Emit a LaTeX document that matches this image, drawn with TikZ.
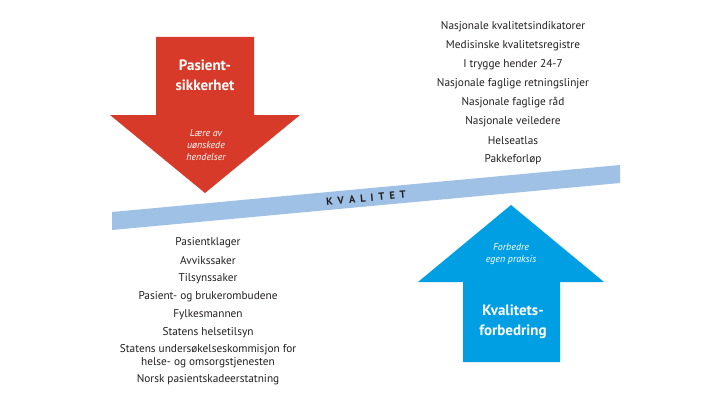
\documentclass[tikz,border=0pt]{standalone}
\usepackage{fontspec}
\setmainfont{PT Sans}
\definecolor{redarrow}{HTML}{D73A28}
\definecolor{bluearrow}{HTML}{009FE3}
\definecolor{bandblue}{HTML}{9FC1E6}
\definecolor{txt}{HTML}{231F20}
\tikzset{
  listitem/.style={font=\fontsize{11.3}{12.5}\selectfont, text=txt, inner sep=0pt, anchor=center, align=center},
  arrowtitle/.style={font=\bfseries\fontsize{15}{20}\selectfont, text=white, inner sep=0pt, align=center},
  arrownote/.style={font=\itshape\fontsize{10}{12}\selectfont, text=white, inner sep=0pt, align=center},
}
\begin{document}
\begin{tikzpicture}[x=1pt,y=-1pt]
\useasboundingbox (0,0) rectangle (719,404);
% band
\fill[bandblue] (112,212) -- (620,165) -- (620,183) -- (112,230) -- cycle;
\node[font=\bfseries\fontsize{10.5}{12}\selectfont, text=txt, rotate=5.3, inner sep=0pt] (kval) at (366,198)
  {K\hspace{5pt}V\hspace{5pt}A\hspace{5pt}L\hspace{5pt}I\hspace{5pt}T\hspace{5pt}E\hspace{5pt}T};
% red arrow
\fill[redarrow] (156,37) -- (254,37) -- (254,115) -- (300,115) -- (205,193) -- (110,115) -- (156,115) -- cycle;
\node[arrowtitle] (ps) at (205,75) {Pasient-\\sikkerhet};
\node[arrownote] (lu) at (206,145) {Lære av\\uønskede\\hendelser};
% blue arrow
\fill[bluearrow] (463,362) -- (560,362) -- (560,282) -- (604,282) -- (511,205) -- (418,282) -- (463,282) -- cycle;
\node[arrownote] (fe) at (511,254) {Forbedre\\egen praksis};
\node[arrowtitle] (kf) at (513,322) {Kvalitets-\\forbedring};
% top right list
\node[listitem] (t1) at (513,27) {Nasjonale kvalitetsindikatorer};
\node[listitem] (t2) at (513,46) {Medisinske kvalitetsregistre};
\node[listitem] (t3) at (513,65) {I trygge hender 24-7};
\node[listitem] (t4) at (513,84) {Nasjonale faglige retningslinjer};
\node[listitem] (t5) at (513,103) {Nasjonale faglige råd};
\node[listitem] (t6) at (513,122) {Nasjonale veiledere};
\node[listitem] (t7) at (513,141) {Helseatlas};
\node[listitem] (t8) at (513,160) {Pakkeforløp};
% bottom left list
\node[listitem] (b1) at (208,243) {Pasientklager};
\node[listitem] (b2) at (208,261) {Avvikssaker};
\node[listitem] (b3) at (208,279) {Tilsynssaker};
\node[listitem] (b4) at (208,297) {Pasient- og brukerombudene};
\node[listitem] (b5) at (208,315) {Fylkesmannen};
\node[listitem] (b6) at (208,333) {Statens helsetilsyn};
\node[listitem] (b7) at (208,356) {Statens undersøkelseskommisjon for\\helse- og omsorgstjenesten};
\node[listitem] (b8) at (208,380) {Norsk pasientskadeerstatning};
\end{tikzpicture}
\end{document}
